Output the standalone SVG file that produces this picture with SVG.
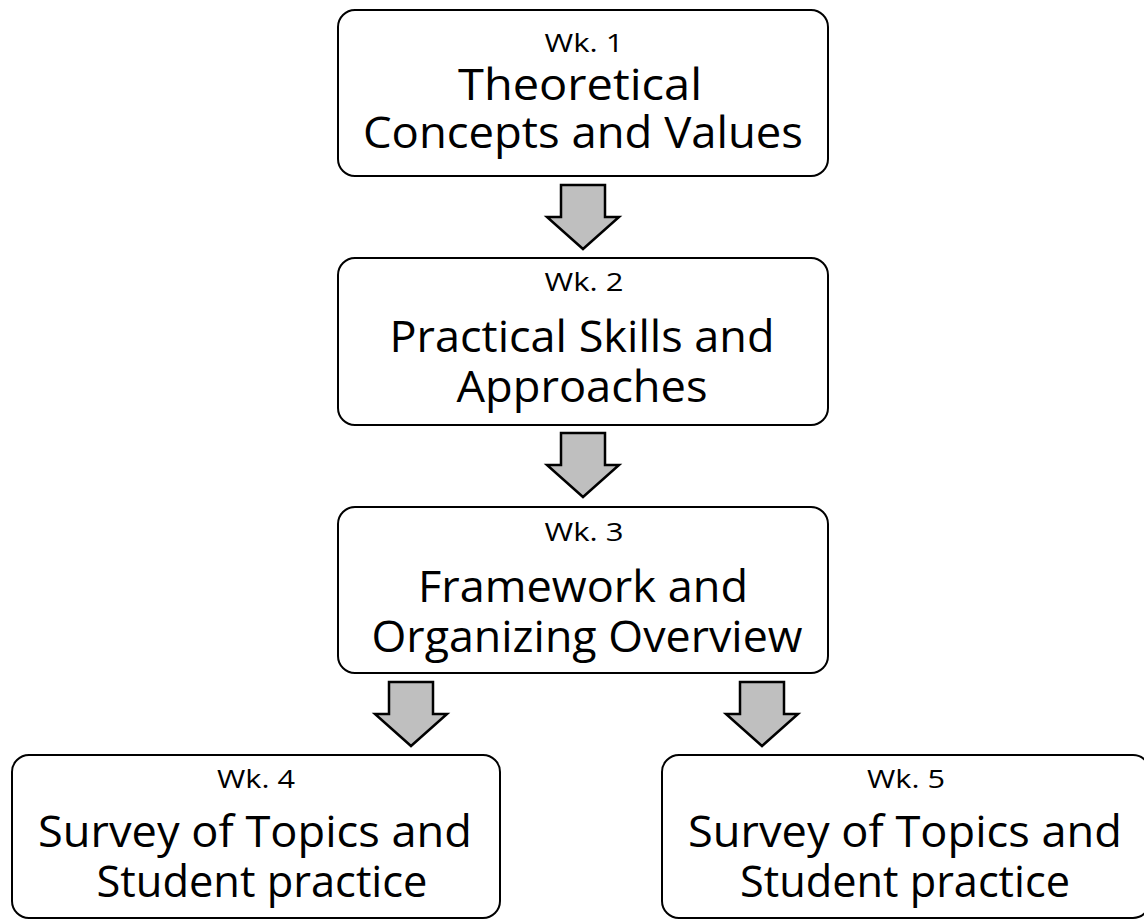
<svg xmlns="http://www.w3.org/2000/svg" width="1144" height="920" viewBox="0 0 1144 920">
<style>
.box{fill:#fff;stroke:#000;stroke-width:2}
.arr{fill:#bfbfbf;stroke:#000;stroke-width:2.5;stroke-linejoin:miter}
.wk{font-family:"Open Sans","Liberation Sans",sans-serif;font-size:25px;fill:#000;text-anchor:middle}
.big{font-family:"Open Sans","Liberation Sans",sans-serif;font-size:43px;fill:#000;text-anchor:middle}
</style>
<defs>
<path id="dn" d="M-22,0 H22 V32 H36 L0,64 L-36,32 H-22 Z"/>
</defs>
<rect width="1144" height="920" fill="#fff"/>
<g id="connectors">
<use href="#dn" class="arr" x="583" y="185"/>
<use href="#dn" class="arr" x="583" y="433"/>
<use href="#dn" class="arr" x="411" y="682"/>
<use href="#dn" class="arr" x="762" y="682"/>
</g>
<g id="wk1">
<rect class="box" x="338" y="10" width="490" height="166" rx="17"/>
<text class="wk" x="584" y="52" textLength="79" lengthAdjust="spacingAndGlyphs">Wk. 1</text>
<text class="big" x="580" y="100" textLength="244" lengthAdjust="spacingAndGlyphs">Theoretical</text>
<text class="big" x="583" y="148" textLength="440" lengthAdjust="spacingAndGlyphs">Concepts and Values</text>
</g>
<g id="wk2">
<rect class="box" x="338" y="258" width="490" height="167" rx="17"/>
<text class="wk" x="584" y="291" textLength="79" lengthAdjust="spacingAndGlyphs">Wk. 2</text>
<text class="big" x="582" y="352" textLength="385" lengthAdjust="spacingAndGlyphs">Practical Skills and</text>
<text class="big" x="582" y="402" textLength="251" lengthAdjust="spacingAndGlyphs">Approaches</text>
</g>
<g id="wk3">
<rect class="box" x="338" y="507" width="490" height="166" rx="17"/>
<text class="wk" x="584" y="541" textLength="79" lengthAdjust="spacingAndGlyphs">Wk. 3</text>
<text class="big" x="583" y="602" textLength="330" lengthAdjust="spacingAndGlyphs">Framework and</text>
<text class="big" x="587" y="652" textLength="431" lengthAdjust="spacingAndGlyphs">Organizing Overview</text>
</g>
<g id="wk4">
<rect class="box" x="12" y="755" width="488" height="163" rx="17"/>
<text class="wk" x="256" y="788" textLength="78" lengthAdjust="spacingAndGlyphs">Wk. 4</text>
<text class="big" x="255" y="847" textLength="434" lengthAdjust="spacingAndGlyphs">Survey of Topics and</text>
<text class="big" x="262" y="897" textLength="331" lengthAdjust="spacingAndGlyphs">Student practice</text>
</g>
<g id="wk5">
<rect class="box" x="662" y="755" width="488" height="163" rx="17"/>
<text class="wk" x="906" y="788" textLength="78" lengthAdjust="spacingAndGlyphs">Wk. 5</text>
<text class="big" x="905" y="847" textLength="434" lengthAdjust="spacingAndGlyphs">Survey of Topics and</text>
<text class="big" x="905" y="897" textLength="330" lengthAdjust="spacingAndGlyphs">Student practice</text>
</g>
</svg>
